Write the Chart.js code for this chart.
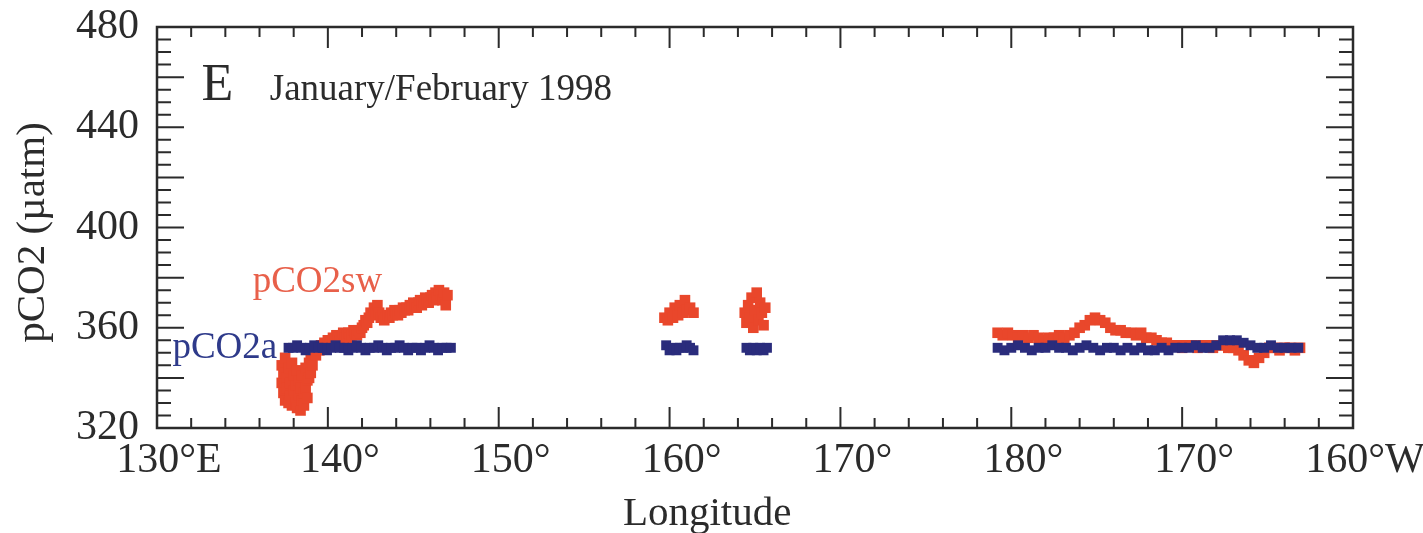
<!DOCTYPE html>
<html>
<head>
<meta charset="utf-8">
<script src="https://cdn.jsdelivr.net/npm/chart.js@4.4.1/dist/chart.umd.min.js"></script>
<style>
  html, body { margin: 0; padding: 0; background: #fff; }
  #wrap { width: 1423px; height: 533px; }
</style>
</head>
<body>
<div id="wrap"><canvas id="co2Chart" width="1423" height="533"></canvas></div>
<script>
// longitude runs 130E -> 200 (= 160W), values in uatm

// pCO2a (atmosphere)
const airLon1 = [137.7, 137.95, 138.2, 138.45, 138.7, 138.95, 139.2, 139.45, 139.7, 139.95, 140.2, 140.45, 140.7, 140.95, 141.2, 141.45, 141.7, 141.95, 142.2, 142.45, 142.7, 142.95, 143.2, 143.45, 143.7, 143.95, 144.2, 144.45, 144.7, 144.95, 145.2, 145.45, 145.7, 145.95, 146.2, 146.45, 146.7, 146.95, 147.2];
const airVal1 = [352, 352, 353, 352, 351, 352, 353, 352, 352, 351, 352, 353, 352, 352, 351, 352, 353, 352, 351, 352, 352, 353, 352, 351, 352, 352, 353, 352, 351, 352, 352, 351, 352, 353, 352, 351, 352, 352, 352];
const airLon2 = [159.8, 160.0, 160.2, 160.4, 160.6, 160.8, 161.0, 161.2, 161.4];
const airVal2 = [353, 351, 352, 351, 352, 352, 353, 352, 351];
const airLon3 = [164.5, 164.7, 164.9, 165.1, 165.3, 165.5, 165.7];
const airVal3 = [352, 351, 352, 351, 352, 351, 352];
const airLon4 = [179.2, 179.6, 180.0, 180.4, 180.8, 181.2, 181.6, 182.0, 182.4, 182.8, 183.2, 183.6, 184.0, 184.4, 184.8, 185.2, 185.6, 186.0, 186.4, 186.8, 187.2, 187.6, 188.0, 188.4, 188.8, 189.2, 189.6, 190.0, 190.4, 190.8, 191.2, 191.6, 192.0, 192.4, 192.8, 193.2, 193.6, 194.0, 194.4, 194.8, 195.2, 195.6, 196.0, 196.4, 196.8];
const airVal4 = [352, 351, 352, 353, 352, 351, 352, 352, 353, 352, 352, 351, 352, 353, 352, 351, 352, 352, 351, 352, 351, 352, 351, 351, 352, 351, 352, 352, 352, 353, 352, 352, 353, 355, 355, 355, 354, 353, 352, 352, 353, 352, 352, 352, 352];

// pCO2sw (seawater)
const seaLon1 = [137.3, 137.3, 137.4, 137.4, 137.5, 137.5, 137.6, 137.6, 137.7, 137.7, 137.8, 137.8, 137.9, 137.9, 138.0, 138.0, 138.1, 138.1, 138.2, 138.2, 138.3, 138.3, 138.4, 138.4, 138.5, 138.5, 138.6, 138.6, 138.7, 138.7, 138.8, 138.8, 138.9, 138.9, 139.0, 139.0, 139.1, 139.1, 139.2, 139.3, 139.4, 139.5, 139.6, 139.7, 139.8, 139.9, 140.0, 140.1, 140.2, 140.3, 140.4, 140.5, 140.6, 140.7, 140.8, 140.9, 141.0, 141.1, 141.2, 141.3, 141.4, 141.5, 141.6, 141.7, 141.8, 141.9, 142.0, 142.1, 142.2, 142.3, 142.4, 142.5, 142.6, 142.7, 142.8, 142.9, 143.0, 143.1, 143.2, 143.3, 143.4, 143.5, 143.6, 143.7, 143.8, 143.9, 144.0, 144.1, 144.2, 144.3, 144.4, 144.5, 144.6, 144.7, 144.8, 144.9, 145.0, 145.1, 145.2, 145.3, 145.4, 145.5, 145.6, 145.7, 145.8, 145.9, 146.0, 146.1, 146.2, 146.3, 146.4, 146.5, 146.6, 146.7, 146.8, 146.9, 147.0];
const seaVal1 = [345, 338, 342, 334, 348, 331, 340, 336, 344, 330, 338, 333, 346, 329, 341, 335, 337, 330, 343, 328, 339, 333, 336, 327, 341, 331, 334, 329, 344, 336, 339, 332, 346, 340, 348, 342, 350, 345, 351, 349, 352, 351, 353, 352, 354, 353, 355, 354, 353, 356, 355, 357, 356, 355, 357, 358, 356, 357, 358, 356, 357, 359, 358, 357, 359, 358, 360, 361, 363, 362, 364, 366, 365, 368, 366, 369, 366, 364, 365, 363, 364, 365, 364, 366, 365, 367, 366, 365, 367, 366, 368, 367, 368, 367, 369, 368, 370, 369, 368, 370, 371, 369, 370, 372, 371, 370, 372, 373, 371, 374, 372, 375, 373, 371, 374, 369, 373];
const seaLon2 = [159.7, 159.9, 160.0, 160.2, 160.3, 160.5, 160.6, 160.8, 160.9, 161.0, 161.2, 161.4];
const seaVal2 = [364, 363, 366, 364, 368, 365, 369, 366, 371, 367, 368, 366];
const seaLon3 = [164.4, 164.5, 164.6, 164.7, 164.8, 164.9, 165.0, 165.1, 165.2, 165.3, 165.4, 165.5, 165.6];
const seaVal3 = [366, 362, 369, 364, 372, 360, 367, 374, 363, 370, 366, 361, 368];
const seaLon4 = [179.2, 179.5, 179.8, 180.1, 180.4, 180.7, 181.0, 181.3, 181.6, 181.9, 182.2, 182.5, 182.8, 183.1, 183.4, 183.7, 184.0, 184.3, 184.6, 184.9, 185.2, 185.5, 185.8, 186.1, 186.4, 186.7, 187.0, 187.3, 187.6, 187.9, 188.2, 188.5, 188.8, 189.1, 189.4, 189.7, 190.0, 190.3, 190.6, 190.9, 191.2, 191.5, 191.8, 192.1, 192.4, 192.7, 193.0, 193.3, 193.6, 193.9, 194.2, 194.5, 194.8, 195.1, 195.4, 195.7, 196.0, 196.3, 196.6, 196.9];
const seaVal4 = [358, 357, 358, 357, 356, 357, 356, 357, 356, 355, 356, 356, 357, 356, 357, 358, 360, 361, 363, 364, 363, 362, 360, 359, 359, 358, 358, 357, 358, 356, 356, 355, 354, 354, 353, 353, 352, 353, 353, 352, 353, 353, 352, 353, 353, 352, 352, 351, 349, 347, 346, 348, 350, 352, 352, 351, 352, 352, 351, 352];

// axis ticks: value -> printed label
const xTickVals = [130, 140, 150, 160, 170, 180, 190, 200];
const xTickText = ["130°E", "140°", "150°", "160°", "170°", "180°", "170°", "160°W"];
const yTickVals = [320, 360, 400, 440, 480];

function pts(lons, vals) {
  return lons.map((x, i) => ({ x: x, y: vals[i] }));
}

const airPts = [].concat(pts(airLon1, airVal1), pts(airLon2, airVal2), pts(airLon3, airVal3), pts(airLon4, airVal4));
const seaPts = [].concat(pts(seaLon1, seaVal1), pts(seaLon2, seaVal2), pts(seaLon3, seaVal3), pts(seaLon4, seaVal4));

const SERIF = "'Liberation Serif', 'DejaVu Serif', serif";
const INK = "#2b2b2b";

// frame, inward ticks, titles and in-plot labels
const decorPlugin = {
  id: "decor",
  afterDraw(chart) {
    const ctx = chart.ctx;
    const a = chart.chartArea;
    const xs = chart.scales.x;
    const ys = chart.scales.y;
    ctx.save();
    ctx.strokeStyle = INK;
    ctx.lineWidth = 2.5;
    ctx.strokeRect(a.left, a.top, a.right - a.left, a.bottom - a.top);

    ctx.lineWidth = 2;
    ctx.beginPath();
    for (let i = 0; i <= 35; i++) {
      const v = 130 + i * 2;
      const px = xs.getPixelForValue(v);
      const len = v % 10 === 0 ? 21 : 10;
      ctx.moveTo(px, a.bottom); ctx.lineTo(px, a.bottom - len);
      ctx.moveTo(px, a.top); ctx.lineTo(px, a.top + len);
    }
    for (let i = 0; i <= 32; i++) {
      const v = 320 + i * 5;
      const py = ys.getPixelForValue(v);
      const len = v % 20 === 0 ? 27 : 14;
      ctx.moveTo(a.left, py); ctx.lineTo(a.left + len, py);
      ctx.moveTo(a.right, py); ctx.lineTo(a.right - len, py);
    }
    ctx.stroke();

    ctx.fillStyle = INK;
    ctx.textBaseline = "alphabetic";
    ctx.textAlign = "left";
    ctx.font = "52px " + SERIF;
    ctx.fillText("E", xs.getPixelForValue(132.6), ys.getPixelForValue(451));
    ctx.font = "37px " + SERIF;
    ctx.fillText("January/February 1998", xs.getPixelForValue(136.6), ys.getPixelForValue(451));

    ctx.fillStyle = "#e8604a";
    ctx.font = "37px " + SERIF;
    ctx.fillText("pCO2sw", xs.getPixelForValue(135.6), ys.getPixelForValue(374.3));
    ctx.fillStyle = "#2e3a8a";
    ctx.fillText("pCO2a", xs.getPixelForValue(130.9), ys.getPixelForValue(347.9));

    ctx.fillStyle = INK;
    ctx.font = "41px " + SERIF;
    ctx.textAlign = "center";
    ctx.fillText("Longitude", a.left + (a.right - a.left) * 0.46, 525);

    ctx.translate(33, (a.top + a.bottom) / 2 + 5);
    ctx.rotate(-Math.PI / 2);
    ctx.textBaseline = "middle";
    ctx.fillText("pCO2 (µatm)", 0, 0);
    ctx.restore();
  }
};

new Chart(document.getElementById("co2Chart"), {
  type: "scatter",
  data: {
    datasets: [
      {
        label: "pCO2a",
        data: airPts,
        pointStyle: "rect",
        pointRadius: 7,
        pointBorderWidth: 0,
        backgroundColor: "#2a2c7c",
        borderColor: "#2a2c7c"
      },
      {
        label: "pCO2sw",
        data: seaPts,
        pointStyle: "rect",
        pointRadius: 7.5,
        pointBorderWidth: 0,
        backgroundColor: "#e9472b",
        borderColor: "#e9472b"
      }
    ]
  },
  options: {
    responsive: false,
    animation: false,
    events: [],
    layout: { padding: { top: 27, right: 70, bottom: 0, left: 0 } },
    plugins: {
      legend: { display: false },
      tooltip: { enabled: false }
    },
    scales: {
      x: {
        type: "linear",
        min: 130,
        max: 200,
        afterFit(scale) {
          scale.height = 105;
          scale.paddingLeft = 0;
          scale.paddingRight = 0;
        },
        afterBuildTicks(scale) { scale.ticks = xTickVals.map(v => ({ value: v })); },
        grid: { display: false, drawTicks: false },
        border: { display: false },
        ticks: {
          padding: 8,
          labelOffset: 12,
          maxRotation: 0,
          autoSkip: false,
          color: INK,
          font: { family: SERIF, size: 42 },
          callback: (v) => xTickText[xTickVals.indexOf(v)]
        }
      },
      y: {
        min: 320,
        max: 480,
        afterFit(scale) {
          scale.width = 157;
          scale.paddingTop = 0;
          scale.paddingBottom = 0;
        },
        afterBuildTicks(scale) { scale.ticks = yTickVals.map(v => ({ value: v })); },
        grid: { display: false, drawTicks: false },
        border: { display: false },
        ticks: {
          padding: 18,
          color: INK,
          font: { family: SERIF, size: 42 }
        }
      }
    }
  },
  plugins: [decorPlugin]
});
</script>
</body>
</html>
